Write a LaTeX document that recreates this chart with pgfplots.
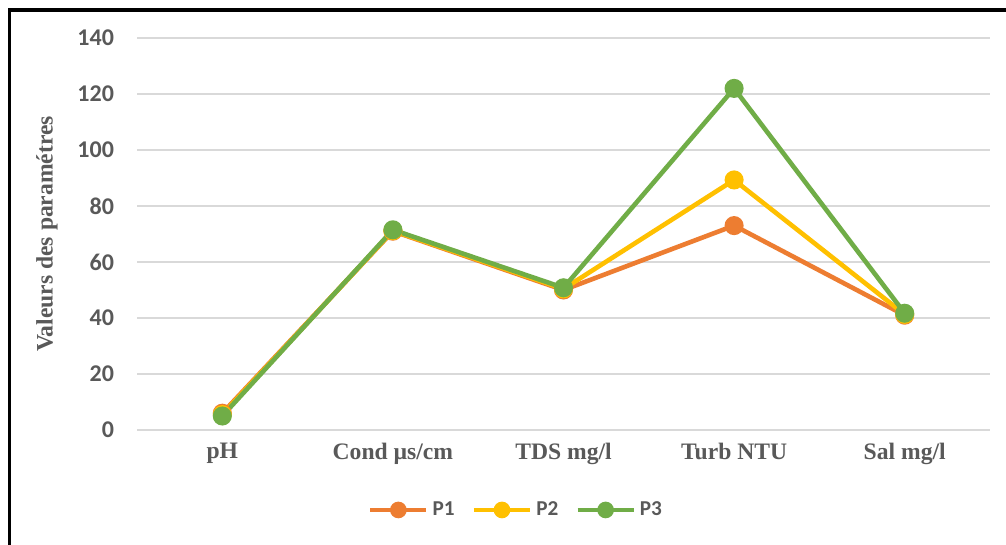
\documentclass[border=0pt]{standalone}
\usepackage{pgfplots}
\pgfplotsset{compat=1.18}
\usepackage{fontspec}
\setmainfont{Liberation Serif}
\newfontfamily\calibri{Carlito}

\definecolor{cP1}{HTML}{ED7D31}
\definecolor{cP2}{HTML}{FFC000}
\definecolor{cP3}{HTML}{70AD47}
\definecolor{txtgrey}{HTML}{595959}
\definecolor{gridgrey}{HTML}{D9D9D9}

\begin{document}
\begin{tikzpicture}
% page area and outer frame
\useasboundingbox (0pt,0pt) rectangle (503pt,-272.5pt);
\fill[white] (0pt,0pt) rectangle (503pt,-272.5pt);
\draw[black, line width=1.6pt] (4.6pt,-290pt) -- (4.6pt,-5pt) -- (520pt,-5pt);

\begin{axis}[
  at={(68.5pt,-215pt)}, anchor=south west,
  scale only axis,
  width=426.5pt, height=196pt,
  xmin=-0.5, xmax=4.5,
  ymin=0, ymax=140,
  ytick={0,20,...,140},
  xtick={0,1,2,3,4},
  xticklabels={pH, Cond µs/cm, TDS mg/l, Turb NTU, Sal mg/l},
  axis line style={draw=none},
  major tick style={draw=none},
  ymajorgrids,
  grid style={gridgrey, line width=0.9pt},
  /pgf/number format/assume math mode=true,
  yticklabel style={font=\fontsize{12}{13}\calibri\bfseries, text=txtgrey, xshift=-8pt},
  xticklabel style={font=\fontsize{11.8}{13}\selectfont\bfseries, text=txtgrey, yshift=-3pt},
  ylabel={Valeurs des paramétres},
  ylabel style={at={(axis description cs:-0.1055,0.5)}, anchor=center, rotate=0,
                font=\fontsize{11.8}{13}\selectfont\bfseries, text=txtgrey},
  legend columns=3,
  legend style={at={(axis description cs:0.4455,-0.204)}, anchor=center,
                draw=none, fill=none,
                font=\fontsize{10.6}{12}\calibri\bfseries, text=txtgrey,
                /tikz/every even column/.append style={column sep=6.5pt}},
  legend image code/.code={
    \draw[mark repeat=2, mark phase=2, mark size=3pt] plot coordinates {(0pt,0pt) (14pt,0pt) (28pt,0pt)};
  },
  every axis plot/.append style={line width=2.3pt, mark=*, mark size=3.6pt},
]
\addplot[color=cP1, mark options={fill=cP1, draw=cP1}] coordinates {
  (0,6) (1,71) (2,50) (3,73) (4,41)
};
\addlegendentry{P1}
\addplot[color=cP2, mark options={fill=cP2, draw=cP2}] coordinates {
  (0,5.5) (1,71.2) (2,50.4) (3,89.3) (4,41.3)
};
\addlegendentry{P2}
\addplot[color=cP3, mark options={fill=cP3, draw=cP3}] coordinates {
  (0,5) (1,71.5) (2,50.8) (3,122) (4,41.7)
};
\addlegendentry{P3}
\end{axis}
\end{tikzpicture}
\end{document}
